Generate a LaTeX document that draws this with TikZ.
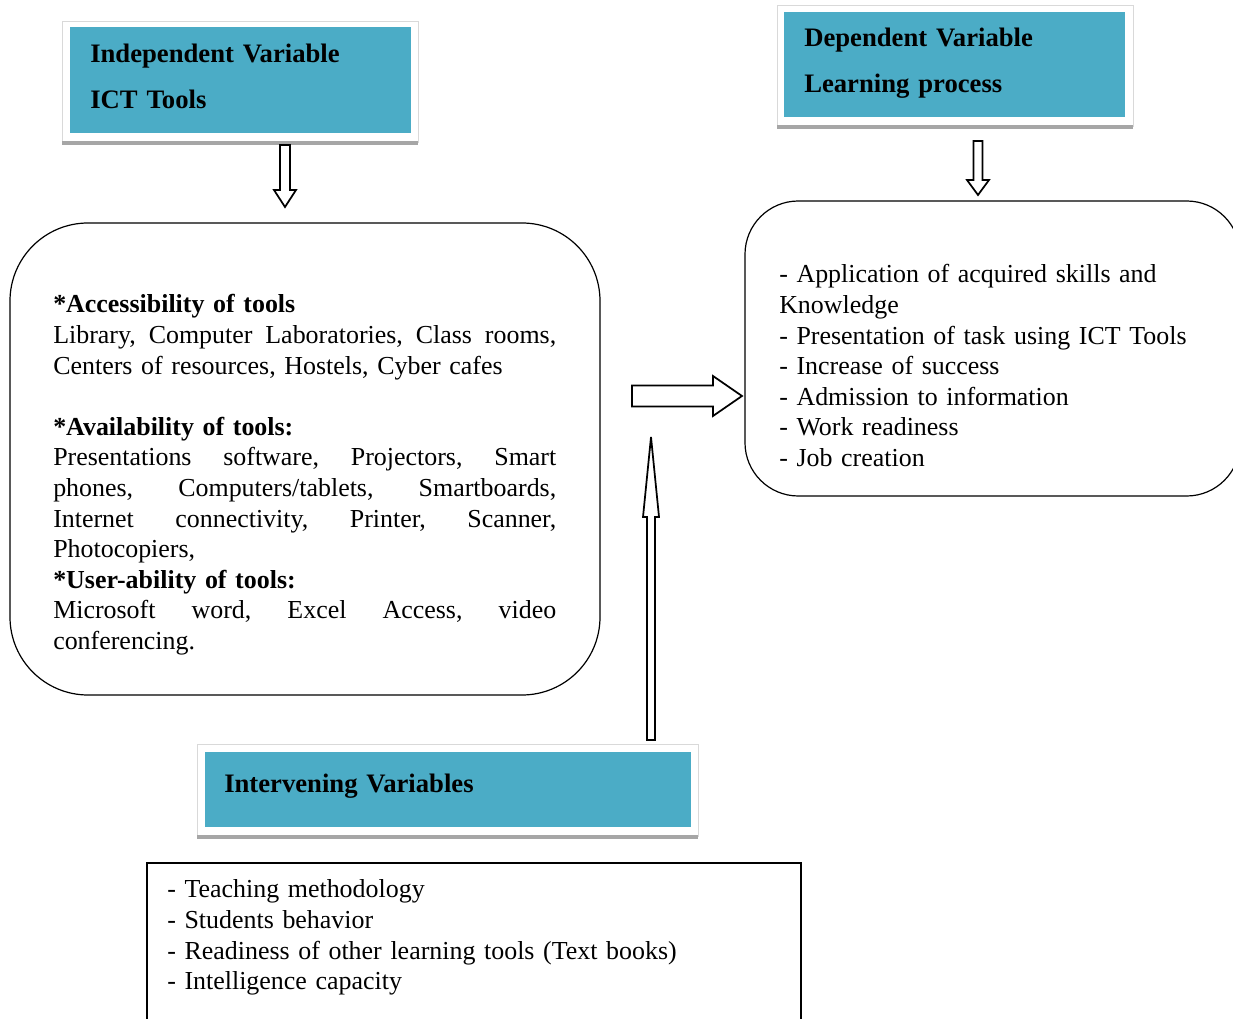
\documentclass[tikz,border=0pt]{standalone}
\usepackage{fontspec}
\setmainfont{Liberation Serif}
\usetikzlibrary{calc,fit}
\definecolor{tealacc}{HTML}{4BACC6}
\definecolor{frameg}{HTML}{D9D9D9}
\definecolor{shadg}{HTML}{A6A6A6}
\newcommand\jl[1]{\leavevmode\hbox to 377.25pt{#1}}
\newcommand\gp{\hspace{0pt plus 1fil}}
\newcommand\blockarrow[5]{%
  \draw[barrow] let \p1=(#1), \p2=(#2),
    \n1={atan2(\y2-\y1,\x2-\x1)}, \n2={veclen(\x2-\x1,\y2-\y1)} in
    [shift={(\p1)}, rotate=\n1]
    (0pt,{-#3*0.75pt}) -- ({\n2-#5*0.75pt},{-#3*0.75pt}) -- ({\n2-#5*0.75pt},{-#4*0.75pt})
    -- ({\n2},0pt) -- ({\n2-#5*0.75pt},{#4*0.75pt}) -- ({\n2-#5*0.75pt},{#3*0.75pt})
    -- (0pt,{#3*0.75pt}) -- cycle;}
\tikzset{
  hdrframe/.style={draw=frameg, line width=0.75pt},
  hdrfill/.style={fill=tealacc, draw=none, inner sep=0pt},
  hdrshadow/.style={draw=shadg, line width=2.6pt},
  txt/.style={inner sep=0pt, anchor=base west, align=left, font=\fontsize{19.45}{22.95}\selectfont},
  hdrtxt/.style={inner sep=0pt, anchor=base west, align=left, font=\fontsize{20}{34.5}\selectfont\bfseries},
  roundbox/.style={draw, line width=0.9pt, inner sep=0pt},
  barrow/.style={draw, fill=white, line width=1.3pt, line join=miter},
}
\begin{document}
\begin{tikzpicture}[x=0.75pt,y=-0.75pt]
\path[use as bounding box] (0,0) rectangle (1233,1019);

% header: independent
\draw[hdrframe] (62,22) rectangle (418,143);
\node[hdrfill, fit={(70,27) (411,133)}] (indep) {};
\draw[hdrshadow] (62,143) -- (418,143);
\node[hdrtxt, text width=300pt] (indept) at (90,63) {Independent Variable\\ICT Tools};

% header: dependent
\draw[hdrframe] (777,6) rectangle (1133,127);
\node[hdrfill, fit={(784,12) (1125,117)}] (dep) {};
\draw[hdrshadow] (777,127) -- (1133,127);
\node[hdrtxt, text width=300pt] (dept) at (804,47) {Dependent Variable\\Learning process};

% header: intervening
\draw[hdrframe] (197,745) rectangle (698,837);
\node[hdrfill, fit={(205,752) (691,827)}] (interv) {};
\draw[hdrshadow] (197,837) -- (698,837);
\node[hdrtxt, text width=400pt] (intervt) at (224,793) {Intervening Variables};

% rounded boxes
\node[roundbox, rounded corners=58.5pt, fit={(10,223) (600,695)}] (tools) {};
\node[txt, text width=377.25pt] (toolst) at (53,313) {%
\textbf{*Accessibility of tools}\\
\jl{Library,\gp Computer\gp Laboratories,\gp Class\gp rooms,}\\
Centers of resources, Hostels, Cyber cafes\\[22.95pt]
\textbf{*Availability of tools:}\\
\jl{Presentations\gp software,\gp Projectors,\gp Smart}\\
\jl{phones,\gp Computers/tablets,\gp Smartboards,}\\
\jl{Internet\gp connectivity,\gp Printer,\gp Scanner,}\\
Photocopiers,\\
\textbf{*User-ability of tools:}\\
\jl{Microsoft\gp word,\gp Excel\gp Access,\gp video}\\
conferencing.};

\node[roundbox, rounded corners=40pt, fit={(745,201) (1240,496)}] (learn) {};
\node[txt, text width=380pt] (learnt) at (779,283) {%
- Application of acquired skills and\\
Knowledge\\
- Presentation of task using ICT Tools\\
- Increase of success\\
- Admission to information\\
- Work readiness\\
- Job creation};

% bottom box
\node[draw, line width=0.9pt, inner sep=0pt, fit={(147,863) (801,1040)}] (ivbox) {};
\node[txt, text width=460pt] (ivboxt) at (167,898) {%
- Teaching methodology\\
- Students behavior\\
- Readiness of other learning tools (Text books)\\
- Intelligence capacity};

% block arrows
\coordinate (a1s) at (285,145);
\coordinate (a1e) at (285,207);
\coordinate (a2s) at (978,141);
\coordinate (a2e) at (978,195);
\coordinate (a3s) at (632,396);
\coordinate (a3e) at (742,396);
\coordinate (a4s) at (651,740);
\coordinate (a4e) at (651,437);
\blockarrow{a1s}{a1e}{5}{11}{17}
\blockarrow{a2s}{a2e}{4.5}{11}{15}
\blockarrow{a3s}{a3e}{10.5}{20}{29}
\blockarrow{a4s}{a4e}{4}{8}{80}
\end{tikzpicture}
\end{document}
